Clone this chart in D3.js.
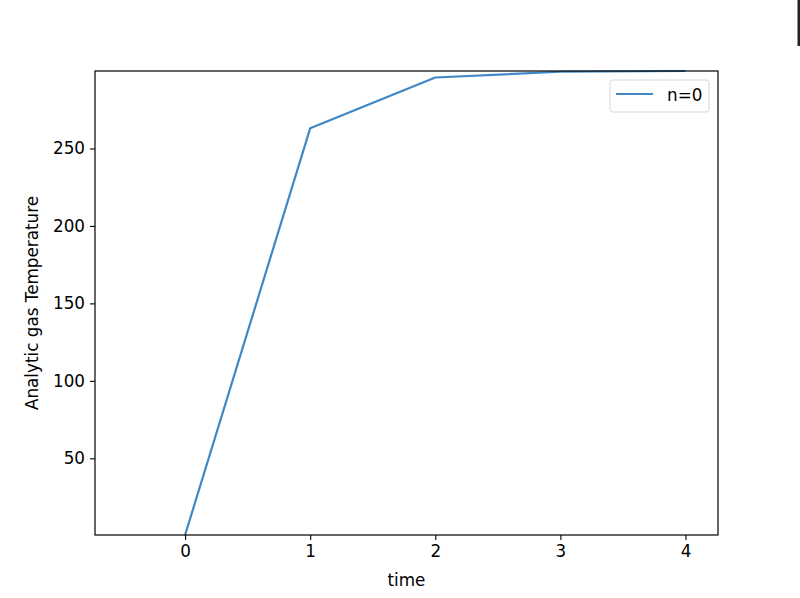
<!DOCTYPE html>
<html>
<head>
<meta charset="utf-8">
<script src="https://cdn.jsdelivr.net/npm/d3@7"></script>
<style>
  body { margin: 0; background: #fff; }
  text { font-family: "DejaVu Sans", sans-serif; fill: #000; }
</style>
</head>
<body>
<script>
// data
const times = [0, 1, 2, 3, 4];
const temps = [0.5, 263, 295.8, 299.5, 300];
const xTicks = [0, 1, 2, 3, 4];
const yTicks = [50, 100, 150, 200, 250];
const seriesName = "n=0";

const W = 800, H = 598;
const margin = {top: 71, right: 82, bottom: 63, left: 95};
const width = W - margin.left - margin.right,
      height = H - margin.top - margin.bottom;

const svg = d3.select("body").append("svg")
    .attr("width", W)
    .attr("height", H);

// odd dark strip at the top right edge
svg.append("rect").attr("x", 797.5).attr("y", 0).attr("width", 2.5).attr("height", 46).attr("fill", "#222");

const g = svg.append("g")
    .attr("transform", "translate(" + margin.left + "," + margin.top + ")");

const x = d3.scaleLinear().domain([-0.72, 4.26]).range([0, width]);
const y = d3.scaleLinear().domain([d3.min(temps), d3.max(temps)]).range([height, 0]);

const fs = "16.8px";

// line
const pts = times.map((t, i) => [t, temps[i]]);
g.append("path")
    .datum(pts)
    .attr("fill", "none")
    .attr("stroke", "#3f88c5")
    .attr("stroke-width", 2.2)
    .attr("stroke-linejoin", "round")
    .attr("d", d3.line().x(d => x(d[0])).y(d => y(d[1])));

// frame
g.append("rect")
    .attr("width", width).attr("height", height)
    .attr("fill", "none").attr("stroke", "#000").attr("stroke-width", 1.2);

// x axis
const xAxis = g.append("g")
    .attr("transform", "translate(0," + height + ")")
    .call(d3.axisBottom(x).tickValues(xTicks).tickFormat(d3.format("d")).tickSize(5).tickPadding(5));
xAxis.select(".domain").remove();
xAxis.selectAll("text").style("font-size", fs).style("font-family", "DejaVu Sans");
xAxis.selectAll("line").attr("stroke-width", 1.1);

// y axis
const yAxis = g.append("g")
    .call(d3.axisLeft(y).tickValues(yTicks).tickFormat(d3.format("d")).tickSize(5).tickPadding(5));
yAxis.select(".domain").remove();
yAxis.selectAll("text").style("font-size", fs).style("font-family", "DejaVu Sans");
yAxis.selectAll("line").attr("stroke-width", 1.1);

// axis labels
g.append("text")
    .attr("x", width / 2)
    .attr("y", height + 51)
    .attr("text-anchor", "middle")
    .style("font-size", fs)
    .text("time");

g.append("text")
    .attr("transform", "rotate(-90)")
    .attr("x", -height / 2)
    .attr("y", -57)
    .attr("text-anchor", "middle")
    .style("font-size", fs)
    .text("Analytic gas Temperature");

// legend
const lg = g.append("g").attr("transform", "translate(" + (width - 108) + ",9)");
lg.append("rect")
    .attr("width", 99).attr("height", 32).attr("rx", 3)
    .attr("fill", "#fff").attr("fill-opacity", 0.8)
    .attr("stroke", "#d8d8d8");
lg.append("line")
    .attr("x1", 6).attr("x2", 43).attr("y1", 14).attr("y2", 14)
    .attr("stroke", "#3f88c5").attr("stroke-width", 2.2);
lg.append("text")
    .attr("x", 57).attr("y", 21)
    .style("font-size", fs)
    .text(seriesName);
</script>
</body>
</html>
